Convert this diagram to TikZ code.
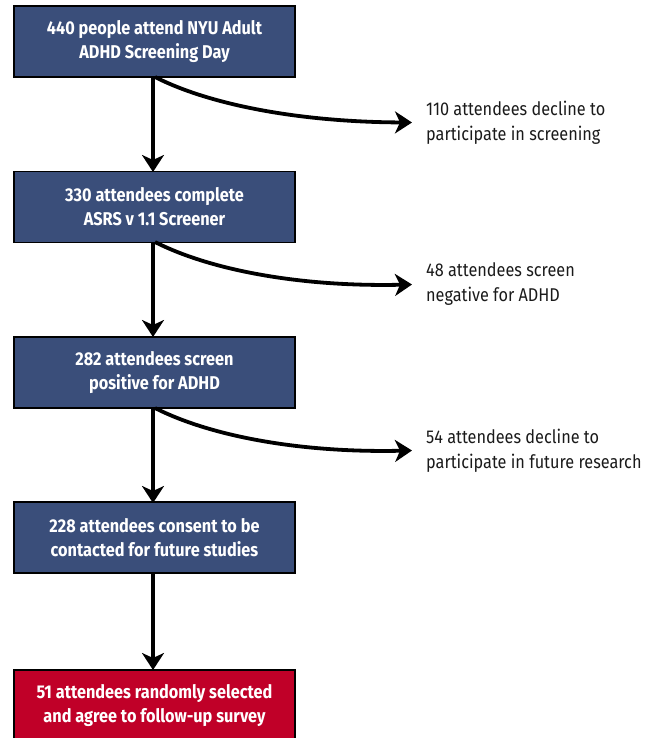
\documentclass[tikz,border=0pt]{standalone}
\usepackage{fontspec}
\setmainfont{Fira Sans}[FakeStretch=0.88]
\usetikzlibrary{arrows.meta}
\definecolor{boxblue}{HTML}{3A4E7A}
\definecolor{boxred}{HTML}{C00028}
\definecolor{sidetext}{HTML}{1A1A1A}
\begin{document}
\begin{tikzpicture}[x=1pt,y=-1pt,
  flowbox/.style={draw=black,line width=1.2pt,fill=boxblue,text=white,
    minimum width=281pt,minimum height=71pt,inner sep=0pt,
    align=center,font=\fontsize{18.5}{24}\selectfont\bfseries},
  redbox/.style={flowbox,fill=boxred},
  sidenote/.style={anchor=west,align=left,text=sidetext,inner sep=0pt,
    font=\fontsize{18.5}{25}\selectfont},
  conn/.style={line width=3.8pt,-{Stealth[length=17pt,width=22pt,inset=5pt]}}
]
\useasboundingbox (0,0) rectangle (655,738);
\node[flowbox] (b1) at (154.5,41.5) {440 people attend NYU Adult\\ADHD Screening Day};
\node[flowbox] (b2) at (154.5,207) {330 attendees complete\\ASRS v 1.1 Screener};
\node[flowbox] (b3) at (154.5,372.5) {282 attendees screen\\positive for ADHD};
\node[flowbox] (b4) at (154.5,537.5) {228 attendees consent to be\\contacted for future studies};
\node[redbox] (b5) at (154.5,705.5) {51 attendees randomly selected\\and agree to follow-up survey};

\node[sidenote] (s1) at (426,122.5) {110 attendees decline to\\participate in screening};
\node[sidenote] (s2) at (426,284.5) {48 attendees screen\\negative for ADHD};
\node[sidenote] (s3) at (426,450.5) {54 attendees decline to\\participate in future research};

\coordinate (c1) at (155,77);
\coordinate (c2) at (155,242);
\coordinate (c3) at (155,408);

\draw[conn] (153,77) -- (153,172);
\draw[conn] (153,242) -- (153,337);
\draw[conn] (153,408) -- (153,503);
\draw[conn] (153,572) -- (153,670);

\draw[conn] (c1) .. controls (210,105) and (300,122) .. ([xshift=-14pt]s1.west);
\draw[conn] (c2) .. controls (210,270) and (300,287) .. ([xshift=-14pt]s2.west);
\draw[conn] (c3) .. controls (210,436) and (300,453) .. ([xshift=-14pt]s3.west);
\end{tikzpicture}
\end{document}
